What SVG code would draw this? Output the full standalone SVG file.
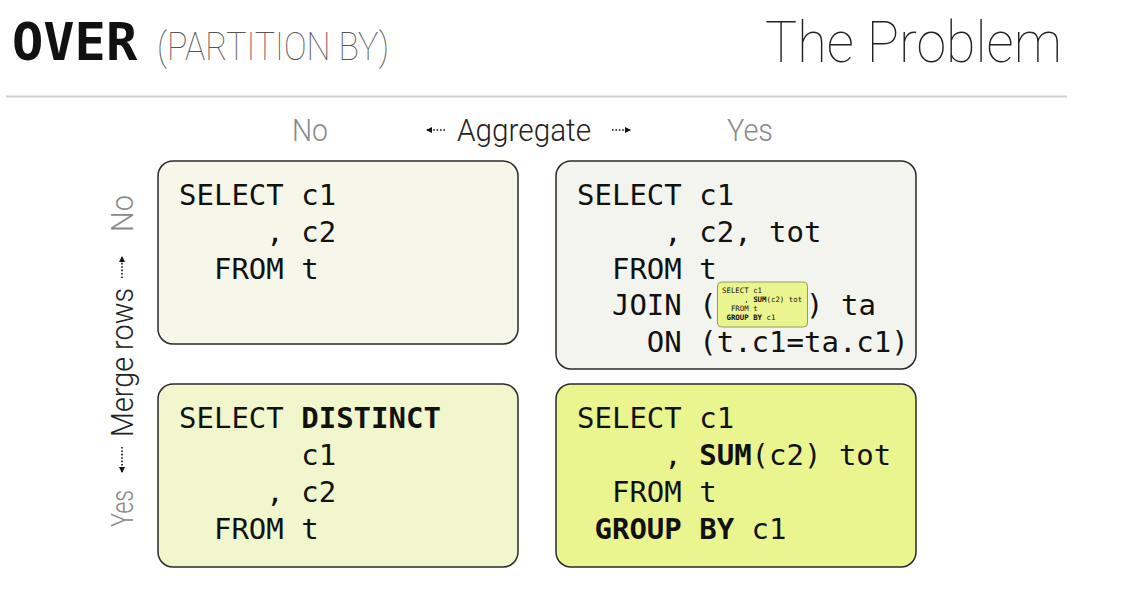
<svg xmlns="http://www.w3.org/2000/svg" width="1133" height="604" viewBox="0 0 1133 604">
  <style>
    .thin { font-family: Roboto, Inter, "Liberation Sans", sans-serif; font-weight: 300; }
    .xthin { font-family: Roboto, Inter, "Liberation Sans", sans-serif; font-weight: 100; }
    .code { font-family: "DejaVu Sans Mono", "Liberation Mono", monospace; font-size: 29px; fill: #111; white-space: pre; }
    .mini { font-family: "DejaVu Sans Mono", "Liberation Mono", monospace; font-size: 7.4px; fill: #111; white-space: pre; }
    .b { font-weight: bold; }
    .box { stroke: #2a2a2a; stroke-width: 1.5; }
    .arr { stroke: #111; stroke-width: 1.6; stroke-dasharray: 1.6 1.8; fill: none; marker-end: url(#head); }
  </style>
  <defs>
    <marker id="head" markerWidth="6" markerHeight="6" refX="5" refY="3" orient="auto" markerUnits="userSpaceOnUse">
      <path d="M0,0 L6,3 L0,6 Z" fill="#111"/>
    </marker>
  </defs>
  <rect width="1133" height="604" fill="#ffffff"/>

  <!-- header -->
  <g id="title">
    <text x="12" y="60" font-family="'DejaVu Sans Mono', monospace" font-weight="bold" font-size="52" fill="#111">OVER</text>
    <text class="xthin" x="157" y="60" font-size="38" fill="#555" textLength="232" lengthAdjust="spacingAndGlyphs">(PARTITION BY)</text>
    <text class="xthin" x="765" y="62" font-size="57" fill="#222" textLength="297" lengthAdjust="spacingAndGlyphs">The Problem</text>
    <line x1="6" y1="96.5" x2="1067" y2="96.5" stroke="#d2d2d2" stroke-width="2"/>
  </g>

  <!-- axis labels -->
  <g id="axis-labels">
    <text class="thin" x="292" y="141" font-size="31" fill="#8a8a8a" textLength="36" lengthAdjust="spacingAndGlyphs">No</text>
    <text class="thin" x="457" y="141" font-size="31" fill="#222" textLength="134" lengthAdjust="spacingAndGlyphs">Aggregate</text>
    <text class="thin" x="727" y="141" font-size="31" fill="#8a8a8a" textLength="46" lengthAdjust="spacingAndGlyphs">Yes</text>
    <g transform="translate(133,0) rotate(-90)">
      <text class="thin" x="-527" y="0" font-size="31" fill="#8a8a8a" textLength="37" lengthAdjust="spacingAndGlyphs">Yes</text>
      <text class="thin" x="-437" y="0" font-size="31" fill="#222" textLength="149" lengthAdjust="spacingAndGlyphs">Merge rows</text>
      <text class="thin" x="-232" y="0" font-size="31" fill="#8a8a8a" textLength="37" lengthAdjust="spacingAndGlyphs">No</text>
    </g>
  </g>

  <g id="connectors">
    <line class="arr" x1="445" y1="130" x2="427" y2="130"/>
    <line class="arr" x1="612" y1="130" x2="630" y2="130"/>
    <line class="arr" x1="122" y1="447" x2="122" y2="472"/>
    <line class="arr" x1="122" y1="278" x2="122" y2="257"/>
  </g>

  <!-- top-left -->
  <g id="box-plain">
    <rect class="box" x="158" y="161" width="360" height="183" rx="15" fill="#f6f6e9"/>
    <text class="code" x="179" y="205">SELECT c1</text>
    <text class="code" x="179" y="242">     , c2</text>
    <text class="code" x="179" y="279">  FROM t</text>
  </g>

  <!-- top-right -->
  <g id="box-join">
    <rect class="box" x="556" y="161" width="360" height="208" rx="15" fill="#f4f4ee"/>
    <text class="code" x="577" y="205">SELECT c1</text>
    <text class="code" x="577" y="242">     , c2, tot</text>
    <text class="code" x="577" y="279">  FROM t</text>
    <text class="code" x="577" y="315">  JOIN (</text>
    <text class="code" x="806" y="315">) ta</text>
    <text class="code" x="577" y="352">    ON (t.c1=ta.c1)</text>
  </g>

  <g id="mini-box">
    <rect x="717.5" y="282" width="90" height="45" rx="4" fill="#ebf58f" stroke="#9a9a60" stroke-width="1"/>
    <text class="mini" x="722" y="292.5">SELECT c1</text>
    <text class="mini" x="722" y="301.5">     , <tspan class="b">SUM</tspan>(c2) tot</text>
    <text class="mini" x="722" y="310.5">  FROM t</text>
    <text class="mini" x="722" y="319.5"> <tspan class="b">GROUP BY</tspan> c1</text>
  </g>

  <!-- bottom-left -->
  <g id="box-distinct">
    <rect class="box" x="158" y="384" width="360" height="183" rx="15" fill="#f1f6cc"/>
    <text class="code" x="179" y="428">SELECT <tspan class="b">DISTINCT</tspan></text>
    <text class="code" x="179" y="465">       c1</text>
    <text class="code" x="179" y="502">     , c2</text>
    <text class="code" x="179" y="539">  FROM t</text>
  </g>

  <!-- bottom-right -->
  <g id="box-group">
    <rect class="box" x="556" y="384" width="360" height="183" rx="15" fill="#ebf58f"/>
    <text class="code" x="577" y="428">SELECT c1</text>
    <text class="code" x="577" y="465">     , <tspan class="b">SUM</tspan>(c2) tot</text>
    <text class="code" x="577" y="502">  FROM t</text>
    <text class="code" x="577" y="539"> <tspan class="b">GROUP BY</tspan> c1</text>
  </g>
</svg>
